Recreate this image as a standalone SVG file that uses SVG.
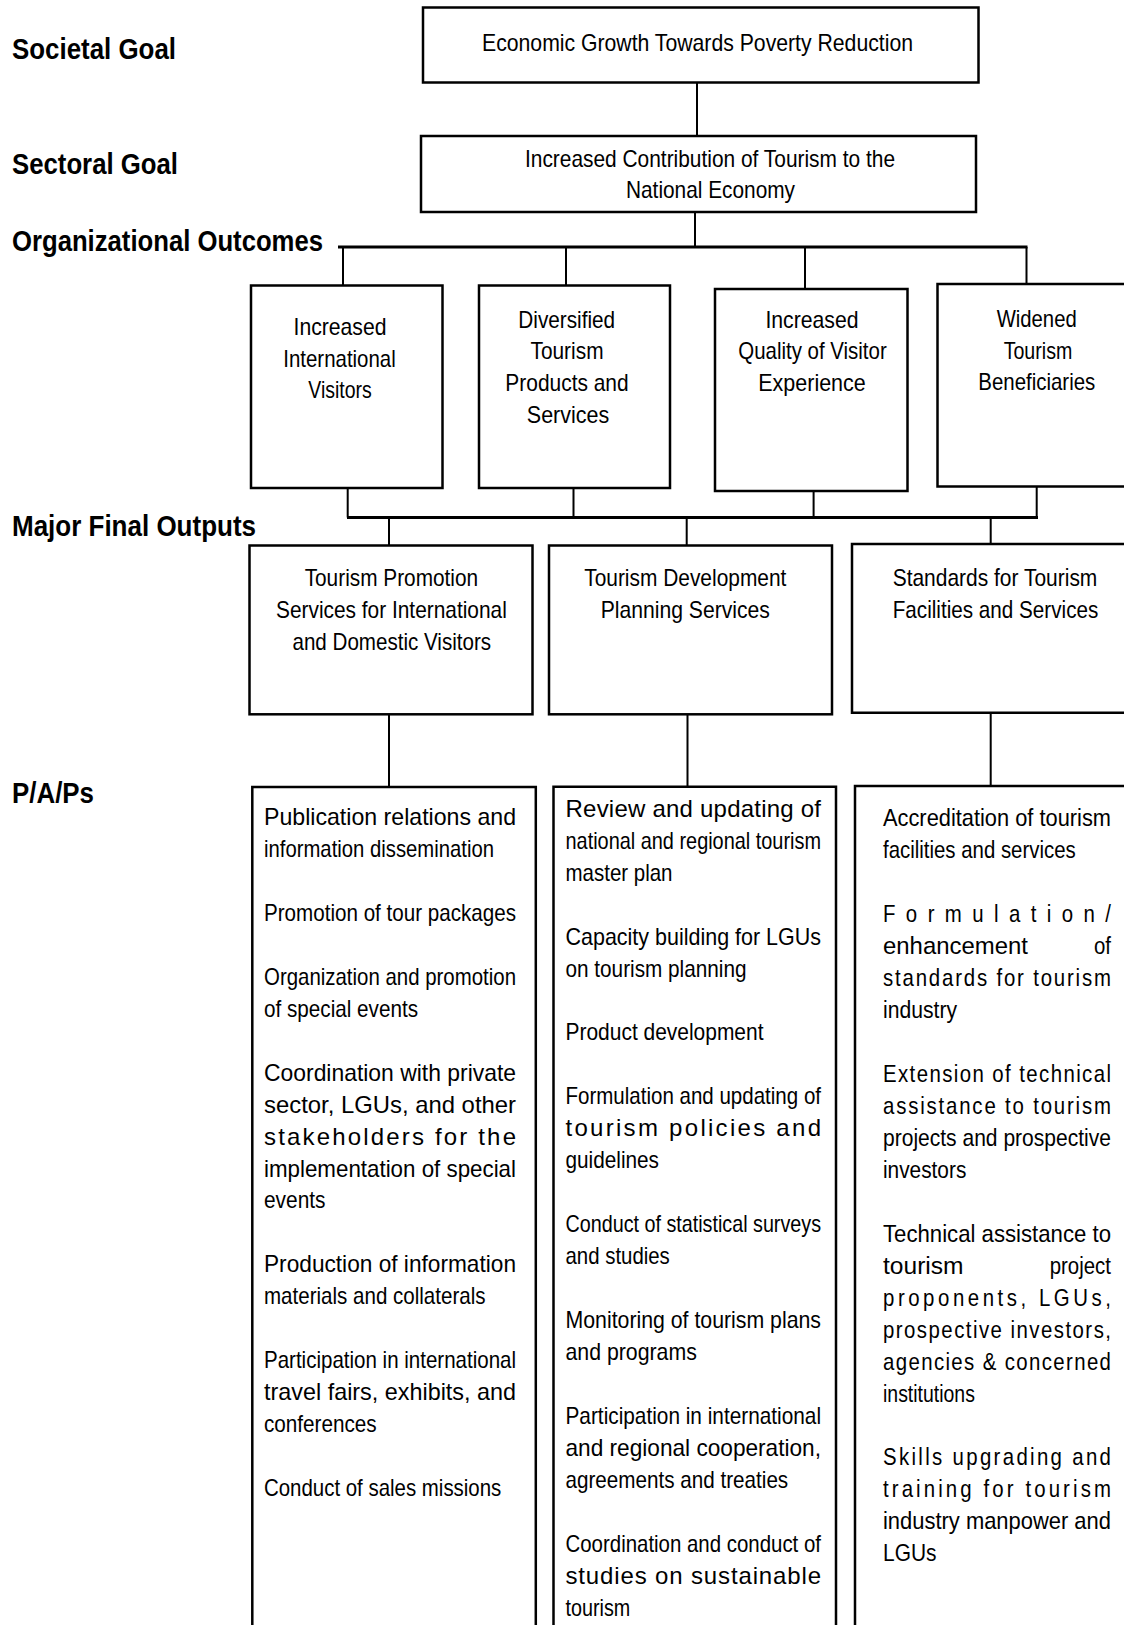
<svg xmlns="http://www.w3.org/2000/svg" width="1124" height="1625" viewBox="0 0 1124 1625">
<style>
.box{fill:#fff;stroke:#000;stroke-width:2.5}
.ln{fill:none;stroke:#000;stroke-width:2}
.bus{fill:none;stroke:#000;stroke-width:3}
.t{font-family:"Liberation Sans",Arial,sans-serif;font-size:24px;fill:#000}
.c{text-anchor:middle}
.e{text-anchor:end}
.lbl{font-family:"Liberation Sans",Arial,sans-serif;font-size:29px;font-weight:bold;fill:#000}
</style>
<rect x="0" y="0" width="1124" height="1625" fill="#fff"/>
<g id="level-labels">
<text class="lbl" x="12" y="59" textLength="164" lengthAdjust="spacingAndGlyphs">Societal Goal</text>
<text class="lbl" x="12" y="174" textLength="166" lengthAdjust="spacingAndGlyphs">Sectoral Goal</text>
<text class="lbl" x="12" y="250.5" textLength="311" lengthAdjust="spacingAndGlyphs">Organizational Outcomes</text>
<text class="lbl" x="12" y="536" textLength="244" lengthAdjust="spacingAndGlyphs">Major Final Outputs</text>
<text class="lbl" x="12" y="803" textLength="82" lengthAdjust="spacingAndGlyphs">P/A/Ps</text>
</g>
<g id="connectors">
<path class="ln" d="M697 82 V136"/>
<path class="ln" d="M695 212 V247"/>
<path class="bus" d="M338 247 H1027.5"/>
<path class="ln" d="M343 247 V285.5 M566 247 V285.5 M805 247 V289 M1026.5 247 V284"/>
<path class="ln" d="M347.7 488 V517.5 M573.5 488 V517.5 M813.6 491 V517.5 M1036.7 486.5 V517.5"/>
<path class="bus" d="M347 517.5 H1038"/>
<path class="ln" d="M389 517.5 V545.5 M686.7 517.5 V545.5 M990.7 517.5 V544"/>
<path class="ln" d="M389 714.3 V787 M687.5 714.3 V787 M990.7 712.7 V786"/>
</g>
<g id="societal-goal">
<rect class="box" x="423" y="7.5" width="555.5" height="75"/>
<text class="t c" x="697.5" y="50.5" textLength="431" lengthAdjust="spacingAndGlyphs">Economic Growth Towards Poverty Reduction</text>
</g>
<g id="sectoral-goal">
<rect class="box" x="421" y="136" width="555" height="76"/>
<text class="t c" x="710" y="167" textLength="370" lengthAdjust="spacingAndGlyphs">Increased Contribution of Tourism to the</text>
<text class="t c" x="710.5" y="198.3" textLength="169" lengthAdjust="spacingAndGlyphs">National Economy</text>
</g>
<g id="outcome-1">
<rect class="box" x="251" y="285.5" width="191.5" height="202.5"/>
<text class="t c" x="340" y="335" textLength="93" lengthAdjust="spacingAndGlyphs">Increased</text>
<text class="t c" x="339.5" y="366.7" textLength="112.5" lengthAdjust="spacingAndGlyphs">International</text>
<text class="t c" x="340" y="398.3" textLength="63.5" lengthAdjust="spacingAndGlyphs">Visitors</text>
</g>
<g id="outcome-2">
<rect class="box" x="479" y="285.5" width="191" height="202.5"/>
<text class="t c" x="566.7" y="327.7" textLength="96.8" lengthAdjust="spacingAndGlyphs">Diversified</text>
<text class="t c" x="567" y="359.3" textLength="73" lengthAdjust="spacingAndGlyphs">Tourism</text>
<text class="t c" x="567" y="391" textLength="123.3" lengthAdjust="spacingAndGlyphs">Products and</text>
<text class="t c" x="568" y="422.7" textLength="82.4" lengthAdjust="spacingAndGlyphs">Services</text>
</g>
<g id="outcome-3">
<rect class="box" x="715" y="289" width="192.5" height="202"/>
<text class="t c" x="812" y="327.7" textLength="93.2" lengthAdjust="spacingAndGlyphs">Increased</text>
<text class="t c" x="812.5" y="359.3" textLength="148.4" lengthAdjust="spacingAndGlyphs">Quality of Visitor</text>
<text class="t c" x="812" y="391" textLength="107.5" lengthAdjust="spacingAndGlyphs">Experience</text>
</g>
<g id="outcome-4">
<path class="box" d="M1130 284 H937.5 V486.5 H1130"/>
<text class="t c" x="1036.7" y="327" textLength="80" lengthAdjust="spacingAndGlyphs">Widened</text>
<text class="t c" x="1038" y="358.5" textLength="68.7" lengthAdjust="spacingAndGlyphs">Tourism</text>
<text class="t c" x="1036.8" y="390.3" textLength="117" lengthAdjust="spacingAndGlyphs">Beneficiaries</text>
</g>
<g id="output-promotion">
<rect class="box" x="249.5" y="545.5" width="283" height="168.8"/>
<text class="t c" x="391.4" y="585.7" textLength="173.5" lengthAdjust="spacingAndGlyphs">Tourism Promotion</text>
<text class="t c" x="391.4" y="617.7" textLength="230.8" lengthAdjust="spacingAndGlyphs">Services for International</text>
<text class="t c" x="391.8" y="649.7" textLength="198.6" lengthAdjust="spacingAndGlyphs">and Domestic Visitors</text>
</g>
<g id="output-development">
<rect class="box" x="549" y="545.5" width="283" height="168.8"/>
<text class="t c" x="685.3" y="585.7" textLength="202.2" lengthAdjust="spacingAndGlyphs">Tourism Development</text>
<text class="t c" x="685.3" y="617.7" textLength="169.2" lengthAdjust="spacingAndGlyphs">Planning Services</text>
</g>
<g id="output-standards">
<path class="box" d="M1130 544 H852 V712.7 H1130"/>
<g transform="translate(995 0) scale(0.85 1)">
<text class="t c" x="0" y="586" textLength="240.8" lengthAdjust="spacingAndGlyphs">Standards for Tourism</text>
<text class="t c" x="0.6" y="617.7" textLength="241.9" lengthAdjust="spacingAndGlyphs">Facilities and Services</text>
</g>
</g>
<g id="paps-promotion">
<path class="box" d="M252.3 1640 V787 H535.8 V1640"/>
<text class="t" x="264" y="825" textLength="252" lengthAdjust="spacingAndGlyphs">Publication relations and</text>
<text class="t" x="264" y="857" textLength="230" lengthAdjust="spacingAndGlyphs">information dissemination</text>
<text class="t" x="264" y="920.9" textLength="252" lengthAdjust="spacingAndGlyphs">Promotion of tour packages</text>
<text class="t" x="264" y="984.8" textLength="252" lengthAdjust="spacingAndGlyphs">Organization and promotion</text>
<text class="t" x="264" y="1016.7" textLength="154" lengthAdjust="spacingAndGlyphs">of special events</text>
<text class="t" x="264" y="1080.6" textLength="252" lengthAdjust="spacingAndGlyphs">Coordination with private</text>
<text class="t" x="264" y="1112.6" textLength="252" lengthAdjust="spacingAndGlyphs">sector, LGUs, and other</text>
<text class="t" x="264" y="1144.5" textLength="252" lengthAdjust="spacing">stakeholders for the</text>
<text class="t" x="264" y="1176.5" textLength="252" lengthAdjust="spacingAndGlyphs">implementation of special</text>
<text class="t" x="264" y="1208.4" textLength="61.5" lengthAdjust="spacingAndGlyphs">events</text>
<text class="t" x="264" y="1272.3" textLength="252" lengthAdjust="spacingAndGlyphs">Production of information</text>
<text class="t" x="264" y="1304.3" textLength="221.5" lengthAdjust="spacingAndGlyphs">materials and collaterals</text>
<text class="t" x="264" y="1368.2" textLength="252" lengthAdjust="spacingAndGlyphs">Participation in international</text>
<text class="t" x="264" y="1400.1" textLength="252" lengthAdjust="spacingAndGlyphs">travel fairs, exhibits, and</text>
<text class="t" x="264" y="1432.1" textLength="112.7" lengthAdjust="spacingAndGlyphs">conferences</text>
<text class="t" x="264" y="1496" textLength="237.3" lengthAdjust="spacingAndGlyphs">Conduct of sales missions</text>
</g>
<g id="paps-development">
<path class="box" d="M553.5 1640 V786.7 H836 V1640"/>
<text class="t" x="565.5" y="816.7" textLength="255.5" lengthAdjust="spacing">Review and updating of</text>
<text class="t" x="565.5" y="848.7" textLength="255.5" lengthAdjust="spacingAndGlyphs">national and regional tourism</text>
<text class="t" x="565.5" y="880.6" textLength="107" lengthAdjust="spacingAndGlyphs">master plan</text>
<text class="t" x="565.5" y="944.5" textLength="255.5" lengthAdjust="spacingAndGlyphs">Capacity building for LGUs</text>
<text class="t" x="565.5" y="976.5" textLength="181" lengthAdjust="spacingAndGlyphs">on tourism planning</text>
<text class="t" x="565.5" y="1040.4" textLength="198" lengthAdjust="spacingAndGlyphs">Product development</text>
<text class="t" x="565.5" y="1104.3" textLength="255.5" lengthAdjust="spacingAndGlyphs">Formulation and updating of</text>
<text class="t" x="565.5" y="1136.2" textLength="255.5" lengthAdjust="spacing">tourism policies and</text>
<text class="t" x="565.5" y="1168.2" textLength="93.5" lengthAdjust="spacingAndGlyphs">guidelines</text>
<text class="t" x="565.5" y="1232.1" textLength="255.5" lengthAdjust="spacingAndGlyphs">Conduct of statistical surveys</text>
<text class="t" x="565.5" y="1264" textLength="104.3" lengthAdjust="spacingAndGlyphs">and studies</text>
<text class="t" x="565.5" y="1327.9" textLength="255.5" lengthAdjust="spacingAndGlyphs">Monitoring of tourism plans</text>
<text class="t" x="565.5" y="1359.9" textLength="131.3" lengthAdjust="spacingAndGlyphs">and programs</text>
<text class="t" x="565.5" y="1423.8" textLength="255.5" lengthAdjust="spacingAndGlyphs">Participation in international</text>
<text class="t" x="565.5" y="1455.7" textLength="255.5" lengthAdjust="spacingAndGlyphs">and regional cooperation,</text>
<text class="t" x="565.5" y="1487.7" textLength="222.7" lengthAdjust="spacingAndGlyphs">agreements and treaties</text>
<text class="t" x="565.5" y="1551.6" textLength="255.5" lengthAdjust="spacingAndGlyphs">Coordination and conduct of</text>
<text class="t" x="565.5" y="1583.5" textLength="255.5" lengthAdjust="spacing">studies on sustainable</text>
<text class="t" x="565.5" y="1615.5" textLength="64.8" lengthAdjust="spacingAndGlyphs">tourism</text>
</g>
<g id="paps-standards">
<path class="box" d="M855 1640 V786 H1130"/>
<g transform="translate(883 0) scale(0.85 1)">
<text class="t" x="0" y="826.5" textLength="268.2" lengthAdjust="spacingAndGlyphs">Accreditation of tourism</text>
<text class="t" x="0" y="858.5" textLength="226.7" lengthAdjust="spacingAndGlyphs">facilities and services</text>
<text class="t" x="0" y="922.4" textLength="268.2" lengthAdjust="spacing">Formulation/</text>
<text class="t" x="0" y="954.3" textLength="170.6" lengthAdjust="spacingAndGlyphs">enhancement</text>
<text class="t e" x="268.2" y="954.3">of</text>
<text class="t" x="0" y="986.3" textLength="268.2" lengthAdjust="spacing">standards for tourism</text>
<text class="t" x="0" y="1018.2" textLength="87.1" lengthAdjust="spacingAndGlyphs">industry</text>
<text class="t" x="0" y="1082.1" textLength="268.2" lengthAdjust="spacing">Extension of technical</text>
<text class="t" x="0" y="1114.1" textLength="268.2" lengthAdjust="spacing">assistance to tourism</text>
<text class="t" x="0" y="1146" textLength="268.2" lengthAdjust="spacingAndGlyphs">projects and prospective</text>
<text class="t" x="0" y="1178" textLength="98" lengthAdjust="spacingAndGlyphs">investors</text>
<text class="t" x="0" y="1241.9" textLength="268.2" lengthAdjust="spacingAndGlyphs">Technical assistance to</text>
<text class="t" x="0" y="1273.8" textLength="94.8" lengthAdjust="spacingAndGlyphs">tourism</text>
<text class="t e" x="268.2" y="1273.8">project</text>
<text class="t" x="0" y="1305.8" textLength="268.2" lengthAdjust="spacing">proponents, LGUs,</text>
<text class="t" x="0" y="1337.7" textLength="268.2" lengthAdjust="spacing">prospective investors,</text>
<text class="t" x="0" y="1369.7" textLength="268.2" lengthAdjust="spacing">agencies &amp; concerned</text>
<text class="t" x="0" y="1401.6" textLength="108.1" lengthAdjust="spacingAndGlyphs">institutions</text>
<text class="t" x="0" y="1465.5" textLength="268.2" lengthAdjust="spacing">Skills upgrading and</text>
<text class="t" x="0" y="1497.5" textLength="268.2" lengthAdjust="spacing">training for tourism</text>
<text class="t" x="0" y="1529.4" textLength="268.2" lengthAdjust="spacingAndGlyphs">industry manpower and</text>
<text class="t" x="0" y="1561.4" textLength="62.9" lengthAdjust="spacingAndGlyphs">LGUs</text>
</g>
</g>
</svg>
